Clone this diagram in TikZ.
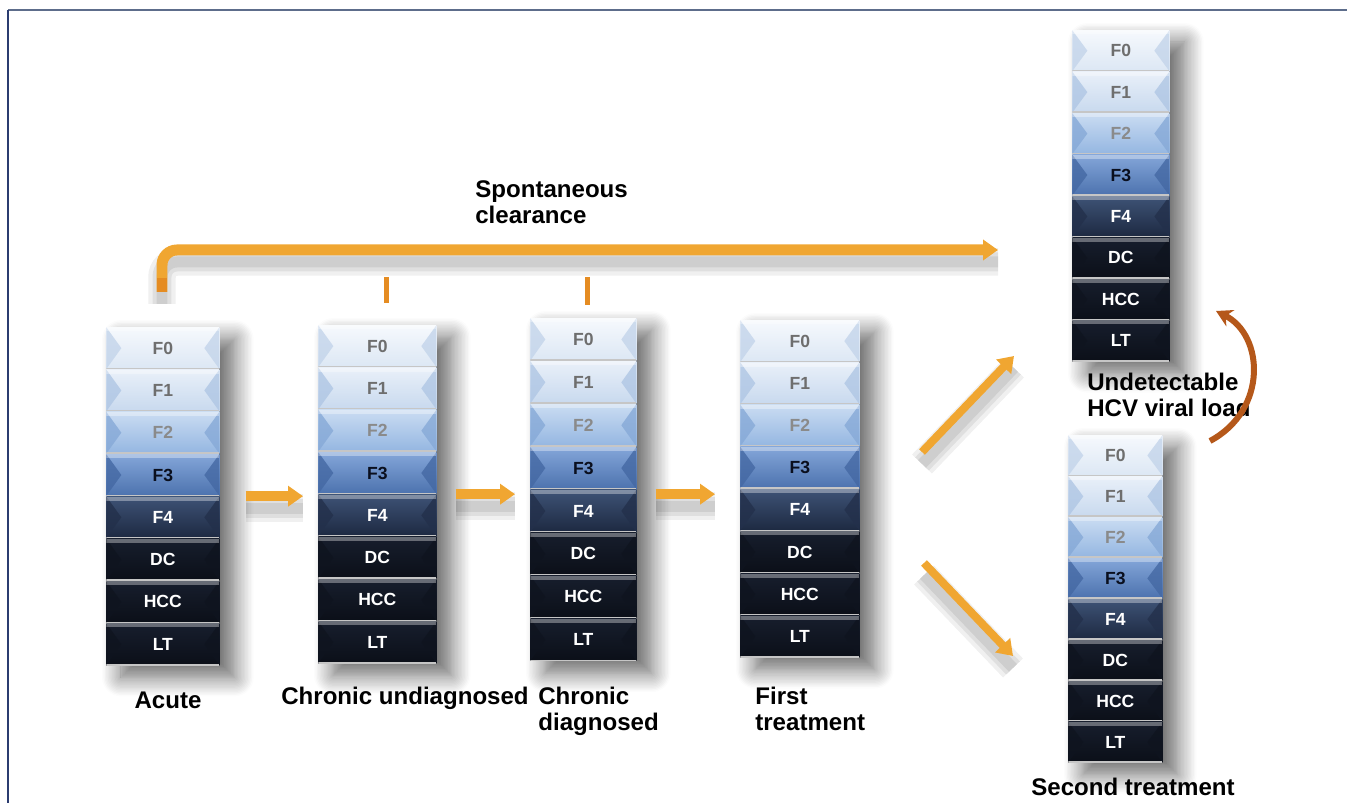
\documentclass[tikz,border=0pt]{standalone}
\usepackage{fontspec}
\setmainfont{Liberation Sans}
\usetikzlibrary{positioning,arrows.meta,shadows.blur,backgrounds}

% fill colours of the fibrosis levels
\definecolor{f0top}{HTML}{F6F9FD}
\definecolor{f0bot}{HTML}{DCE7F4}
\definecolor{f0side}{HTML}{C3D4EA}
\definecolor{f1top}{HTML}{E9F0F9}
\definecolor{f1bot}{HTML}{C8D9EE}
\definecolor{f1side}{HTML}{AFC6E4}
\definecolor{f2top}{HTML}{CADCF2}
\definecolor{f2bot}{HTML}{94B6E1}
\definecolor{f2side}{HTML}{86A9D7}
\definecolor{f3top}{HTML}{84A6D9}
\definecolor{f3bot}{HTML}{4C72AE}
\definecolor{f3side}{HTML}{4468A3}
\definecolor{f4top}{HTML}{3E5376}
\definecolor{f4bot}{HTML}{1D2941}
\definecolor{f4side}{HTML}{23304B}
\definecolor{dktop}{HTML}{171E2D}
\definecolor{dkbot}{HTML}{0B0F18}
\definecolor{dkside}{HTML}{0F141F}
\definecolor{greytext}{HTML}{6E6E6E}
\definecolor{f2text}{HTML}{8A8A8A}
\definecolor{f3text}{HTML}{0A0F1E}
\definecolor{flowc}{HTML}{F0A631}
\definecolor{startc}{HTML}{E58C22}
\definecolor{returnc}{HTML}{B5581A}
\definecolor{frametop}{HTML}{5D6D8B}
\definecolor{frameleft}{HTML}{2B3C70}

\newcommand{\cellfont}{\bfseries\fontsize{10}{12}\selectfont}
\newcommand{\stagefont}{\bfseries\fontsize{13.7}{14.9}\selectfont}

\tikzset{
  cell/.style n args={3}{rectangle, inner sep=0pt, top color=#1, bottom color=#2,
    font=\cellfont,
    path picture={
      \fill[#3, opacity=0.8] (path picture bounding box.north west) -- ([xshift=0.3cm]path picture bounding box.west)
        -- (path picture bounding box.south west) -- cycle;
      \fill[#3, opacity=0.8] (path picture bounding box.north east) -- ([xshift=-0.3cm]path picture bounding box.east)
        -- (path picture bounding box.south east) -- cycle;
      \fill[white, opacity=0.35] (path picture bounding box.north west) rectangle
        ([yshift=-0.08cm]path picture bounding box.north east);
      \draw[gray!45, line width=1.2pt] (path picture bounding box.south west) -- (path picture bounding box.south east);
    }},
  f0 cell/.style={cell={f0top}{f0bot}{f0side}, text=greytext},
  f1 cell/.style={cell={f1top}{f1bot}{f1side}, text=greytext},
  f2 cell/.style={cell={f2top}{f2bot}{f2side}, text=f2text},
  f3 cell/.style={cell={f3top}{f3bot}{f3side}, text=f3text},
  f4 cell/.style={cell={f4top}{f4bot}{f4side}, text=white},
  dark cell/.style={cell={dktop}{dkbot}{dkside}, text=white},
  stage/.style={font=\stagefont, inner sep=0pt},
  stack shadow/.style={blur shadow={shadow xshift=0.3cm, shadow yshift=-0.24cm,
    shadow blur radius=0.38cm, shadow opacity=60, shadow blur steps=14}},
  soft shadow/.style={
    preaction={-, draw=black, opacity=0.06, line width=0.55cm, transform canvas={yshift=-0.24cm}},
    preaction={-, draw=black, opacity=0.07, line width=0.38cm, transform canvas={yshift=-0.24cm}},
    preaction={-, draw=black, opacity=0.08, line width=0.22cm, transform canvas={yshift=-0.24cm}}},
}

\begin{document}
\begin{tikzpicture}[x=0.02cm, y=-0.02cm, node distance=0pt,
  flow/.style={draw=flowc, line width=0.2cm, -{Triangle[width=0.4cm, length=0.3cm]}},
  tick/.style={draw=startc, line width=0.1cm},
  return/.style={draw=returnc, line width=0.12cm, -{Stealth[width=0.36cm, length=0.32cm]}}]

  \useasboundingbox (0,0) rectangle (1347,803);
  \draw[frametop, line width=0.05cm] (8,10) -- (1347,10);
  \draw[frameleft, line width=0.03cm] (8,10) -- (8,803);

  % acute
  \begin{scope}[nodes={minimum width=2.26cm, minimum height=0.832cm}]
  \node[f0 cell, anchor=north west] (s1f0) at (106,327) {F0};
  \node[f1 cell] (s1f1) [below=of s1f0] {F1};
  \node[f2 cell] (s1f2) [below=of s1f1] {F2};
  \node[f3 cell] (s1f3) [below=of s1f2] {F3};
  \node[f4 cell] (s1f4) [below=of s1f3] {F4};
  \node[dark cell] (s1dc) [below=of s1f4] {DC};
  \node[dark cell] (s1hcc) [below=of s1dc] {HCC};
  \node[dark cell] (s1lt) [below=of s1hcc] {LT};
  \end{scope}

  % chronic undiagnosed
  \begin{scope}[nodes={minimum width=2.36cm, minimum height=0.832cm}]
  \node[f0 cell, anchor=north west] (s2f0) at (318,325) {F0};
  \node[f1 cell] (s2f1) [below=of s2f0] {F1};
  \node[f2 cell] (s2f2) [below=of s2f1] {F2};
  \node[f3 cell] (s2f3) [below=of s2f2] {F3};
  \node[f4 cell] (s2f4) [below=of s2f3] {F4};
  \node[dark cell] (s2dc) [below=of s2f4] {DC};
  \node[dark cell] (s2hcc) [below=of s2dc] {HCC};
  \node[dark cell] (s2lt) [below=of s2hcc] {LT};
  \end{scope}

  % chronic diagnosed
  \begin{scope}[nodes={minimum width=2.12cm, minimum height=0.844cm}]
  \node[f0 cell, anchor=north west] (s3f0) at (530,318) {F0};
  \node[f1 cell] (s3f1) [below=of s3f0] {F1};
  \node[f2 cell] (s3f2) [below=of s3f1] {F2};
  \node[f3 cell] (s3f3) [below=of s3f2] {F3};
  \node[f4 cell] (s3f4) [below=of s3f3] {F4};
  \node[dark cell] (s3dc) [below=of s3f4] {DC};
  \node[dark cell] (s3hcc) [below=of s3dc] {HCC};
  \node[dark cell] (s3lt) [below=of s3hcc] {LT};
  \end{scope}

  % first treatment
  \begin{scope}[nodes={minimum width=2.38cm, minimum height=0.83cm}]
  \node[f0 cell, anchor=north west] (s4f0) at (740,320) {F0};
  \node[f1 cell] (s4f1) [below=of s4f0] {F1};
  \node[f2 cell] (s4f2) [below=of s4f1] {F2};
  \node[f3 cell] (s4f3) [below=of s4f2] {F3};
  \node[f4 cell] (s4f4) [below=of s4f3] {F4};
  \node[dark cell] (s4dc) [below=of s4f4] {DC};
  \node[dark cell] (s4hcc) [below=of s4dc] {HCC};
  \node[dark cell] (s4lt) [below=of s4hcc] {LT};
  \end{scope}

  % undetectable viral load
  \begin{scope}[nodes={minimum width=1.94cm, minimum height=0.815cm}]
  \node[f0 cell, anchor=north west] (s5f0) at (1072,30) {F0};
  \node[f1 cell] (s5f1) [below=of s5f0] {F1};
  \node[f2 cell] (s5f2) [below=of s5f1] {F2};
  \node[f3 cell] (s5f3) [below=of s5f2] {F3};
  \node[f4 cell] (s5f4) [below=of s5f3] {F4};
  \node[dark cell] (s5dc) [below=of s5f4] {DC};
  \node[dark cell] (s5hcc) [below=of s5dc] {HCC};
  \node[dark cell] (s5lt) [below=of s5hcc] {LT};
  \end{scope}

  % second treatment
  \begin{scope}[nodes={minimum width=1.88cm, minimum height=0.805cm}]
  \node[f0 cell, anchor=north west] (s6f0) at (1068,435) {F0};
  \node[f1 cell] (s6f1) [below=of s6f0] {F1};
  \node[f2 cell] (s6f2) [below=of s6f1] {F2};
  \node[f3 cell] (s6f3) [below=of s6f2] {F3};
  \node[f4 cell] (s6f4) [below=of s6f3] {F4};
  \node[dark cell] (s6dc) [below=of s6f4] {DC};
  \node[dark cell] (s6hcc) [below=of s6dc] {HCC};
  \node[dark cell] (s6lt) [below=of s6hcc] {LT};
  \end{scope}

  \begin{scope}[on background layer]
  \path[stack shadow] (s1f0.north west) rectangle (s1lt.south east);
  \path[stack shadow] (s2f0.north west) rectangle (s2lt.south east);
  \path[stack shadow] (s3f0.north west) rectangle (s3lt.south east);
  \path[stack shadow] (s4f0.north west) rectangle (s4lt.south east);
  \path[stack shadow] (s5f0.north west) rectangle (s5lt.south east);
  \path[stack shadow] (s6f0.north west) rectangle (s6lt.south east);
  \end{scope}

  \node[stage] (acute) at (168,700) {Acute};
  \node[stage] (undiag) at (405,698) {Chronic undiagnosed};
  \node[stage, anchor=west, align=left] (diag) at (538,711) {Chronic\\diagnosed};
  \node[stage, anchor=west, align=left] (first) at (755,709) {First\\treatment};
  \node[stage, anchor=west, align=left] (undet) at (1087,395) {Undetectable\\HCV viral load};
  \node[stage] (second) at (1133,787) {Second treatment};
  \node[stage, anchor=west, align=left] (spont) at (475,202) {Spontaneous\\clearance};

  \coordinate (sc start) at (162,292);
  \coordinate (sc end) at (998,250);
  \coordinate (up start) at (922,452);
  \coordinate (up end) at (1014,356);
  \coordinate (down start) at (924,563);
  \coordinate (down end) at (1013,656);
  \coordinate (ret start) at (1210,441);
  \coordinate (ret end) at (1216,311);

  % stage to stage
  \draw[flow, soft shadow] ([xshift=0.52cm]s1f3.south east) -- ([xshift=-0.3cm]s1f3.south east -| s2f3.west);
  \draw[flow, soft shadow] ([xshift=0.38cm]s2f3.south east) -- ([xshift=-0.3cm]s2f3.south east -| s3f3.west);
  \draw[flow, soft shadow] ([xshift=0.38cm]s3f3.south east |- s2f3.south) -- ([xshift=-0.5cm]s2f3.south -| s4f3.west);
  \draw[flow, line width=0.16cm, soft shadow] (up start) -- (up end);
  \draw[flow, line width=0.16cm, soft shadow] (down start) -- (down end);

  % clearance branch
  \draw[flow, line width=0.22cm, rounded corners=0.3cm, soft shadow] (sc start) |- (sc end);
  \draw[startc, line width=0.22cm] (sc start) -- ++(0,-14);
  \draw[tick] (386,277) -- (386,303);
  \draw[tick] (587,277) -- (587,305);

  \draw[return] (ret start) .. controls (1268,410) and (1264,335) .. (ret end);
\end{tikzpicture}
\end{document}
